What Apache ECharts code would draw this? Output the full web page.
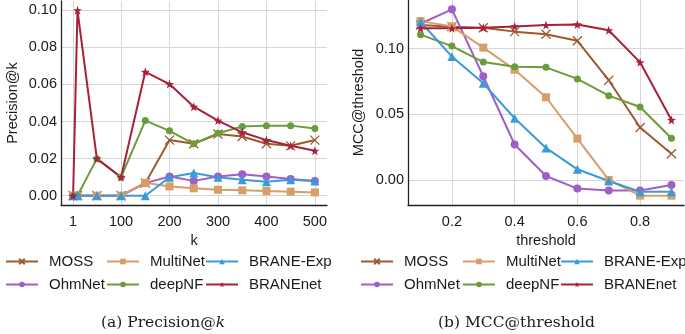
<!DOCTYPE html>
<html><head><meta charset="utf-8">
<script src="https://cdn.jsdelivr.net/npm/echarts@6/dist/echarts.min.js"></script>
<style>html,body{margin:0;padding:0;background:#fff}#c{width:685px;height:334px}</style>
</head><body><div id="c"></div>
<script>
// ---- data ----
const methods = ['MOSS', 'OhmNet', 'MultiNet', 'deepNF', 'BRANE-Exp', 'BRANEnet'];
const kValues = [1, 10, 50, 100, 150, 200, 250, 300, 350, 400, 450, 500];
const kTicks = [1, 100, 200, 300, 400, 500];
const precTicks = [0, 0.02, 0.04, 0.06, 0.08, 0.10];
const precMOSS     = [0, 0, 0, 0, 0.0068, 0.030, 0.028, 0.0333, 0.0319, 0.028, 0.0269, 0.030];
const precOhmNet   = [0, 0, 0, 0, 0.0068, 0.0104, 0.008, 0.0104, 0.0116, 0.0104, 0.009, 0.008];
const precMultiNet = [0, 0, 0, 0, 0.007, 0.005, 0.004, 0.0032, 0.0029, 0.0025, 0.0022, 0.0018];
const precDeepNF   = [0, 0, 0.02, 0.01, 0.0405, 0.035, 0.028, 0.0337, 0.0373, 0.0378, 0.0378, 0.0362];
const precBRANEExp = [0, 0, 0, 0, 0, 0.010, 0.0122, 0.010, 0.0086, 0.0075, 0.0086, 0.008];
const precBRANEnet = [0, 0.10, 0.02, 0.01, 0.0668, 0.0602, 0.048, 0.0405, 0.0342, 0.030, 0.0269, 0.0242];

const thresholds = [0.1, 0.2, 0.3, 0.4, 0.5, 0.6, 0.7, 0.8, 0.9];
const thrTicks = [0.2, 0.4, 0.6, 0.8];
const mccTicks = [0, 0.05, 0.10];
const mccMOSS     = [0.118, 0.1168, 0.116, 0.113, 0.111, 0.106, 0.076, 0.040, 0.020];
const mccOhmNet   = [0.119, 0.130, 0.079, 0.027, 0.003, -0.0066, -0.008, -0.008, -0.0038];
const mccMultiNet = [0.121, 0.117, 0.1008, 0.084, 0.063, 0.0315, 0.000, -0.012, -0.012];
const mccDeepNF   = [0.1107, 0.102, 0.0898, 0.0863, 0.0858, 0.077, 0.0642, 0.0556, 0.0317];
const mccBRANEExp = [0.1205, 0.094, 0.0736, 0.047, 0.0244, 0.0081, -0.0008, -0.009, -0.009];
const mccBRANEnet = [0.1155, 0.1155, 0.116, 0.117, 0.118, 0.1185, 0.114, 0.0896, 0.0457];

// ---- styles ----
const STAR = 'path://M0,-10L2.35,-3.24L9.51,-3.09L3.8,1.24L5.88,8.09L0,4L-5.88,8.09L-3.8,1.24L-9.51,-3.09L-2.35,-3.24Z';
const XMARK = 'path://M-5,-5L5,5M-5,5L5,-5';
const style = {
  'MOSS':      {color: '#9c5a2e', symbol: XMARK, size: 9},
  'OhmNet':    {color: '#a05ec8', symbol: 'circle', size: 8},
  'MultiNet':  {color: '#d69f68', symbol: 'rect', size: 8},
  'deepNF':    {color: '#6a9d3a', symbol: 'circle', size: 7},
  'BRANE-Exp': {color: '#3b9ad8', symbol: 'triangle', size: 9},
  'BRANEnet':  {color: '#a8203a', symbol: STAR, size: 9}
};
const precData = {'MOSS': precMOSS, 'OhmNet': precOhmNet, 'MultiNet': precMultiNet, 'deepNF': precDeepNF, 'BRANE-Exp': precBRANEExp, 'BRANEnet': precBRANEnet};
const mccData = {'MOSS': mccMOSS, 'OhmNet': mccOhmNet, 'MultiNet': mccMultiNet, 'deepNF': mccDeepNF, 'BRANE-Exp': mccBRANEExp, 'BRANEnet': mccBRANEnet};

const FONT = 'Liberation Sans';
const TXT = '#1a1a1a';
const GRIDC = '#d6d6d6';

function mkSeries(name, xs, ys, idx) {
  const s = style[name];
  return {
    type: 'line', name, xAxisIndex: idx, yAxisIndex: idx,
    data: xs.map((x, i) => [x, ys[i]]),
    symbol: s.symbol, symbolSize: s.size, showAllSymbol: true,
    lineStyle: {color: s.color, width: 2},
    itemStyle: name === 'MOSS' ? {color: s.color, borderColor: s.color, borderWidth: 1.3} : {color: s.color, borderWidth: 0},
    emphasis: {disabled: true}, animation: false, z: 2
  };
}

function xAxis(gi, min, max, ticks, fmt, name) {
  return {
    type: 'value', gridIndex: gi, min, max,
    name, nameLocation: 'middle', nameGap: 26,
    nameTextStyle: {fontFamily: FONT, fontSize: 14.5, color: TXT},
    axisLine: {show: true, onZero: false, lineStyle: {color: '#222', width: 1.3}},
    axisTick: {show: false, customValues: ticks},
    axisLabel: {customValues: ticks, formatter: fmt, fontFamily: FONT, fontSize: 14.5, color: TXT, margin: 9},
    splitLine: {show: true, lineStyle: {color: GRIDC, width: 1}}
  };
}
function yAxis(gi, min, max, ticks, fmt, name, gap) {
  return {
    type: 'value', gridIndex: gi, min, max,
    name, nameLocation: 'middle', nameGap: gap, nameRotate: 90,
    nameTextStyle: {fontFamily: FONT, fontSize: 14.5, color: TXT},
    axisLine: {show: true, onZero: false, lineStyle: {color: '#222', width: 1.3}},
    axisTick: {show: false, customValues: ticks},
    axisLabel: {customValues: ticks, formatter: fmt, fontFamily: FONT, fontSize: 14.5, color: TXT, margin: 4},
    splitLine: {show: true, lineStyle: {color: GRIDC, width: 1}}
  };
}

const legendCols = [[0, 101, 200], [355, 457, 555]];
const colNames = [['MOSS', 'OhmNet'], ['MultiNet', 'deepNF'], ['BRANE-Exp', 'BRANEnet']];
const legends = [];
legendCols.forEach(cols => cols.forEach((lx, ci) => {
  legends.push({
    orient: 'vertical', left: lx, top: 249, itemGap: 8, itemWidth: 32, itemHeight: 7,
    data: colNames[ci], selectedMode: false,
    textStyle: {fontFamily: FONT, fontSize: 15, color: TXT, padding: [0, 0, 0, 6]}
  });
}));

const series = [];
methods.forEach(m => series.push(mkSeries(m, kValues, precData[m], 0)));
methods.forEach(m => series.push(mkSeries(m, thresholds, mccData[m], 1)));

const chart = echarts.init(document.getElementById('c'), null, {renderer: 'canvas'});
chart.setOption({
  animation: false,
  backgroundColor: '#fff',
  grid: [
    {left: 61, top: 1, width: 266, height: 204, containLabel: false},
    {left: 408, top: 0, width: 276, height: 205, containLabel: false}
  ],
  xAxis: [
    xAxis(0, -24, 525, kTicks, v => String(v), 'k'),
    xAxis(1, 0.06, 0.94, thrTicks, v => v.toFixed(1), 'threshold')
  ],
  yAxis: [
    yAxis(0, -0.005, 0.105, precTicks, v => v.toFixed(2), 'Precision@k', 41),
    yAxis(1, -0.0191, 0.1371, mccTicks, v => v.toFixed(2), 'MCC@threshold', 42)
  ],
  legend: legends,
  graphic: [
    {type: 'text', left: 101, top: 315, style: {text: '(a) Precision@{i|k}', rich: {i: {fontStyle: 'italic', fontFamily: 'DejaVu Serif', fontSize: 15.5}}, fontFamily: 'DejaVu Serif', fontSize: 15.5, fill: TXT}},
    {type: 'text', left: 438, top: 315, style: {text: '(b) MCC@threshold', fontFamily: 'DejaVu Serif', fontSize: 15.5, fill: TXT}}
  ],
  series
});
</script></body></html>
